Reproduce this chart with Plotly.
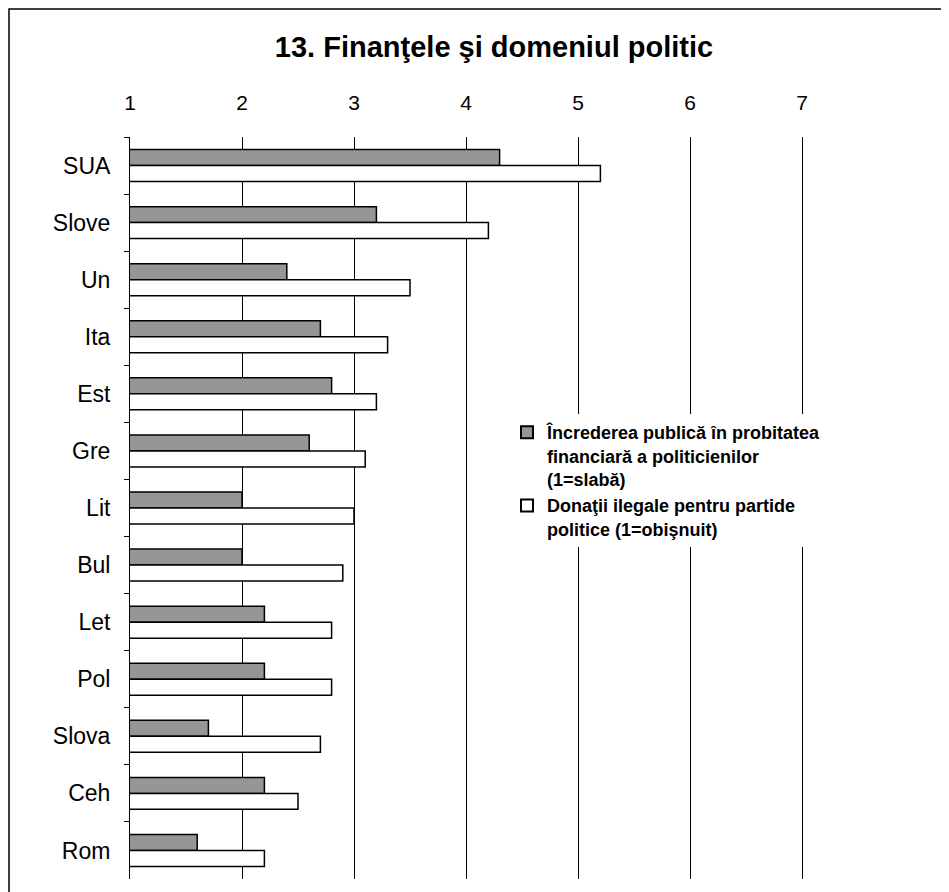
import plotly.graph_objects as go

countries = ["SUA", "Slove", "Un", "Ita", "Est", "Gre", "Lit", "Bul", "Let", "Pol", "Slova", "Ceh", "Rom"]
trust = [4.3, 3.2, 2.4, 2.7, 2.8, 2.6, 2.0, 2.0, 2.2, 2.2, 1.7, 2.2, 1.6]
donations = [5.2, 4.2, 3.5, 3.3, 3.2, 3.1, 3.0, 2.9, 2.8, 2.8, 2.7, 2.5, 2.2]
tick_vals = [1, 2, 3, 4, 5, 6, 7]

name_trust = "Încrederea publică în probitatea<br>financiară a politicienilor<br>(1=slabă)"
name_don = "Donaţii ilegale pentru partide<br>politice (1=obişnuit)"

FONT = "Arial, Liberation Sans, sans-serif"

# page body has an 8px margin; compensate so the plot lands where the reference has it
OFF = 8
L, T = 130 - OFF, 137 - OFF
PW, PH = 784, 742

fig = go.Figure()
fig.add_trace(go.Bar(
    y=countries, x=trust, orientation="h", base=0, name=name_trust,
    marker=dict(color="#969696", line=dict(color="black", width=1.5)),
))
fig.add_trace(go.Bar(
    y=countries, x=donations, orientation="h", base=0, name=name_don,
    marker=dict(color="white", line=dict(color="black", width=1.5)),
))

fig.update_layout(
    width=949, height=892,
    margin=dict(l=L, r=949 - L - PW, t=T, b=892 - T - PH),
    paper_bgcolor="white", plot_bgcolor="white",
    barmode="group", bargap=0.44, bargroupgap=0,
    font=dict(family=FONT, color="black"),
    title=dict(text="<b>13. Finanţele şi domeniul politic</b>",
               x=(494 - OFF) / 949, xanchor="center", xref="container",
               y=1 - (47 - OFF) / 892, yanchor="middle", yref="container",
               font=dict(size=29, family=FONT, color="black")),
    xaxis=dict(side="top", range=[1, 8], tickvals=tick_vals,
               showgrid=True, gridcolor="black", gridwidth=1,
               zeroline=False, showline=False, ticks="",
               ticklabelstandoff=22,
               tickfont=dict(size=21, family=FONT, color="black")),
    yaxis=dict(type="category", categoryorder="array", categoryarray=countries,
               autorange="reversed", showline=True, linecolor="black", linewidth=1,
               ticks="outside", tickson="boundaries", ticklen=5, tickcolor="black",
               ticklabelstandoff=14, showgrid=False,
               tickfont=dict(size=23, family=FONT, color="black")),
    legend=dict(x=(507 - 130) / PW, xanchor="left", y=1 - (414 - 137) / PH, yanchor="top",
                bgcolor="white", borderwidth=0, valign="top",
                traceorder="normal", tracegroupgap=0,
                font=dict(size=18, family=FONT, color="black", weight="bold"),
                itemsizing="constant"),
    shapes=[dict(type="rect", xref="paper", yref="paper",
                 x0=(9 - 130) / PW, x1=1.3, y0=-0.3, y1=1 + (137 - 9) / PH,
                 line=dict(color="black", width=1.5), fillcolor="rgba(0,0,0,0)",
                 layer="above")],
)

fig.write_html("out.html")
